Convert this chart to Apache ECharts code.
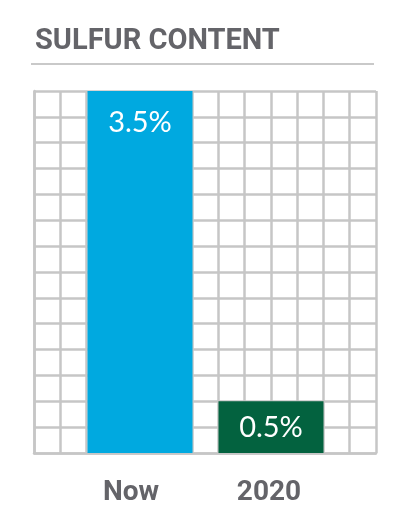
<!DOCTYPE html>
<html>
<head>
<meta charset="utf-8">
<script src="https://cdn.jsdelivr.net/npm/echarts@6/dist/echarts.min.js"></script>
<style>html,body{margin:0;padding:0;background:#fff;}#c{width:412px;height:525px;}</style>
</head>
<body>
<div id="c"></div>
<script>
var title = 'SULFUR CONTENT';
var categories = ['Now', '2020'];
var values = [3.5, 0.5];
var valueLabels = ['3.5%', '0.5%'];
var barColors = ['#00A9E0', '#03623F'];
var yMax = 3.5;
var yStep = 0.25;
var gridCols = 13;

var chart = echarts.init(document.getElementById('c'), null, {renderer: 'canvas'});
var gridLine = {color: '#C6C6C6', width: 2.5};
chart.setOption({
  animation: false,
  title: {
    text: title, left: 30, top: 22,
    textStyle: {fontFamily: 'Roboto', fontWeight: 'bold', fontSize: 29, color: '#646469'}
  },
  graphic: [{
    type: 'line', shape: {x1: 31, y1: 64, x2: 374, y2: 64},
    style: {stroke: '#C9C9C9', lineWidth: 2}
  }],
  grid: [
    {left: 34, top: 91, width: 342, height: 362, containLabel: false},
    {left: 74.5, top: 91, width: 262, height: 362, containLabel: false}
  ],
  xAxis: [
    {type: 'value', gridIndex: 0, min: 0, max: gridCols, interval: 1,
     axisLabel: {show: false}, axisTick: {show: false},
     axisLine: {show: true, lineStyle: gridLine}, splitLine: {show: true, lineStyle: gridLine}},
    {type: 'category', gridIndex: 1, data: categories,
     axisLine: {show: false}, axisTick: {show: false},
     axisLabel: {interval: 0, margin: 26, fontFamily: 'Roboto', fontWeight: 'bold', fontSize: 28, color: '#646469',
       formatter: function (v) { return v === categories[0] ? '{a|' + v + '}' : '{b|' + v + '}'; },
       rich: {
         a: {fontFamily: 'Roboto', fontWeight: 'bold', fontSize: 28, color: '#646469', padding: [0, 18, 0, 0]},
         b: {fontFamily: 'Roboto', fontWeight: 'bold', fontSize: 28, color: '#646469', padding: [0, 4, 0, 0]}
       }}}
  ],
  yAxis: [
    {type: 'value', gridIndex: 0, min: 0, max: yMax, interval: yStep,
     axisLabel: {show: false}, axisTick: {show: false},
     axisLine: {show: true, lineStyle: gridLine}, splitLine: {show: true, lineStyle: gridLine}},
    {type: 'value', gridIndex: 1, min: 0, max: yMax, interval: yStep, show: false,
     splitLine: {show: false}}
  ],
  series: [{
    type: 'bar', xAxisIndex: 1, yAxisIndex: 1, barWidth: 105,
    data: values.map(function (v, i) {
      return {
        value: v,
        itemStyle: {color: barColors[i]},
        label: {
          show: true,
          position: i === 0 ? 'insideTop' : 'inside',
          distance: 17,
          formatter: valueLabels[i],
          fontFamily: 'Lato', fontSize: 29, color: '#FFFFFF'
        }
      };
    })
  }]
});
</script>
</body>
</html>
